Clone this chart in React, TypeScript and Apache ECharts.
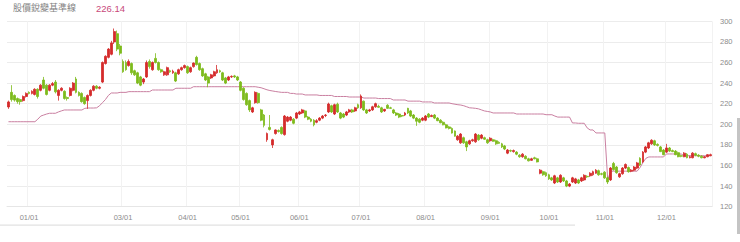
import React, { useEffect, useRef } from "react";
import * as echarts from "echarts";

// [open, close, low, high]
const ohlc: [number, number, number, number][] = [
  [216.8,221.7,215,223],[231,224,222,238],[228,223.5,222,229],[225,222,220,226],[224,222,219,225],
  [223,227,222,228],[227,230,226,231],[231,230,229,232],[230,232,229,233],[229,234,228,235],
  [234,227,225,235],[233,238,232,239],[243,235,234,246],[238,229,228,239],[233,238,232,239],
  [238,239.5,237,241],[241,231.5,230,243],[228,233,223,234],[233,235,232,236],[232,225,224,233],
  [226,225,223,227],[228,235,227,236],[233,240,232,241],[244,231,230,246],[231,228,227,232],
  [230,222,221,231],[226,220,219,227],[223,228,215,229],[228,233,227,234],[233,237,232,238],
  [237,235,234,238],[235,236,234,237],[241,260,240,261],[259,266,258,267],[265,273,264,274],
  [268,279,267,281],[280,290,278,293],[288,273,271,291],[276,269,267,278],[261,251,250,263],
  [260,253,252,262],[257,261,256,263],[259,250,248,260],[252,248,247,253],[250,240,239,251],
  [246,238,237,247],[241,244,239,245],[246,260,245,262],[261,256,254,263],[253,260,252,261],
  [264,260,259,269],[260,253,252,261],[253,251,250,254],[248,251,247,252],[248,255,247,256],
  [252,251,250,253],[250,251.5,249,253],[250,242,241,251],[249,253,248,254],[253,255,252,256],
  [255,257,254,258],[256,250,249,257],[251,255,250,256],[256,259.5,255,260],[265,258,257,266.5],
  [259,253,252,260],[254,247,246,255],[249,243,242,250],[246,240,236,247],[245,248,244,249],
  [247,251,246,252],[250,253,249,257.6],[252,251,250,253],[250,243,242,251],[245,240,239,246],
  [243,246,242,247],[246,246.5,245,247.5],[247,246,245,248],[246,243,242,247],[241,233,232,242],
  [235,224,223,236],[230,219,218,231],[223,214,212,224],[212,216,211,217],[221,231,220,232],
  [230,221,220,231],[214,204,203,215],[209,199,197,210],[185,191,183,192],[197,195,194,209],
  [180,185,177,186],[191,194.5,190,195],[194,193,192,195],[197,191,190,198],[190,208,189,209],
  [203,207,202,208],[204,207,203,208],[205,201,200,206],[206,211,205,212],[210,212,209,213],
  [211,214,210,215],[213,207,206,214],[207,205,204,208],[205,203,202,206],[204,199.5,198,205],
  [202,203.5,201,205],[204,206,203,207],[206,208,205,209],[208.5,209,207,210],[212,219.7,211,221],
  [218,212,211,219],[210,219,209,220],[219.5,212,211,221],[211,206,205,212],[210,207,206,211],
  [209,212,208,213],[212,214,211,215],[214,212,211,215],[213,216,212,217],[219,216,215,220],
  [216,227.5,215,229],[222.5,214,213,223],[214,211,210,215],[213,214,212,215],[214,217,213,218],
  [217,220,216,221],[217.5,216.5,216,219],[216,212,211,217],[213,214.5,212,215],[218.5,215.5,215,219.5],
  [216,215.5,215,217],[214,211,210,215],[211,209,208,212],[210,207,206,211],[208.5,208,207,209],
  [209,211,208,212],[215.5,211,210,216],[213,208,207,214],[209,206,205,210],[206,203,198.5,207],
  [205,202,201,206],[204,206,203,207],[204,208,203,209],[210,207,206,211],[207.5,208.5,207,209.5],
  [209,206,205,210],[206,203.5,203,207],[204,201.5,201,205],[202,199.5,199,203],[199.5,196.5,196,200.5],
  [197.5,196,195,198.5],[196,191.5,191,197],[193.5,188.5,188,194],[185,188.5,184,189.5],[182,190.5,181,191.5],
  [187,182,181,188],[183,178,174,184],[181,184,180,185],[184,185,183,186],[183,190.5,182,191.5],
  [189.5,185,184,190.5],[186.5,189.5,185.5,190.5],[187,185.5,185,188],[185,182,181,186],[184,186.5,183,187.5],
  [185,183.5,183,186],[184,181,180,185],[182.5,181.5,181,183.5],[181,178,177,182],[179,176,175,180],
  [172,175,171,176],[174.5,174,173,175.5],[173.5,174.5,172.5,175.5],[173,171,170,174],[170,168.5,167.5,171],
  [168.5,171,167.5,172],[169,166.5,166,170],[166.5,164.5,164,167.5],[165,166.5,164.5,167.5],[167.5,166.5,166,168.5],
  [166.5,163.5,163,167.5],[152.5,155.5,151.5,156.5],[154,151,150,155],[153,150,149,154],[151,147,146,152],
  [148,146,145,149],[143,150,142,151],[148,144,143,149],[144,150.5,143,151.5],[148,145,144,149],
  [145,140,139,146],[140,142,139,143],[144,148,143,149],[143,147,142,148],[146,143,142,147],
  [145,148,144,149],[146,150.5,145,151.5],[149.5,149,148,150.5],[150,152.5,149,153.5],[151,154,150,155],
  [152.5,155.5,152,156.5],[155,151,150,156],[152,151.5,150.5,153],[153.5,148,147,154.5],[148,144,142,149],
  [146,157.5,145,158.5],[162,156,155,163.5],[158.5,153,152,159.5],[149,152,148,153],[152,157.5,151,158.5],
  [157.5,161,156.5,162],[158,154,153,159],[154.5,155.5,153.5,156.5],[155.5,158.5,154.5,159.5],[157.5,162.5,156.5,163.5],
  [167,160.5,159.5,168],[163.5,173,162.5,174],[173,178,172,179],[177,182,176,183],[181,184.5,180,185.5],
  [184,180,179,185],[180.5,179.5,178.5,181.5],[178,173.5,173,179],[175,170.5,170,176],[173,177,172,181],
  [177,174,173,178],[174.5,173.5,173,175.5],[174,170.5,170,175],[172.5,168.5,168,173.5],[169.5,169,168,170.5],
  [168.5,172,168,173],[171,167.5,167,172],[167.5,168.5,167,169.5],[167.5,172,167,173],[171.5,170,169,172.5],
  [170,169,168,171],[169,167.5,167,170],[167.5,168.5,167,169],[168.5,170.5,168,171],[169.5,170.5,169,171.5],
];

const baseline: number[] = [
  202.5,202.5,202.5,202.5,202.5,202.5,202.5,202.5,202.5,202.5,
  205,208,209,210,210.7,210.7,210.7,212,213,213.9,
  213.9,213.9,213.9,213.9,213.9,213.9,215.5,215.8,215.8,215.8,
  216,218,221,224,228,230.4,230.4,230.4,231,231,
  231,231.7,231.7,231.7,231.7,231.7,231.7,231.7,231.7,233.3,
  233.3,233.3,233.3,233.3,233.3,233.3,233.3,235,235,235,
  235,235,235,236.5,236.5,236.5,236.5,236.5,236.5,236.5,
  236.5,236.5,236.5,236.5,236.5,236.5,236.5,236.5,236.5,236.5,
  236.5,236.5,236.5,236.5,236.5,236,235.5,234.5,233.5,232.8,
  232.3,231.8,231.4,231,231,231,230,230,229.4,229.4,
  229.4,228.5,228.5,228.5,228.5,228.5,228,228,228,228,
  228,227,227,227,227,227,226.5,226.5,226.5,226.5,
  226.5,225.5,225.5,225.5,225.5,225.5,225,225,225,225,
  225,223.6,223.6,223.6,223.6,223.6,222.5,222.5,222.5,222.5,
  222.5,221.7,221.7,221.7,221.7,220.7,220.7,220.7,220.7,220.7,
  220.7,220,219.5,219,218.7,218,217,216,215.8,215.5,
  215,214,213,212.5,212,211,211,211,211,211,
  211,211,211,210,210,210,210,210,210,210,
  210,210,210,209.3,209.3,209.3,208,207,207,207,
  207,207,201.3,201.3,201,201,201,196.5,194.5,194.5,
  191.6,191.6,191.6,191.6,146,154.5,154.5,154.5,154.5,154.5,
  154.5,154.5,154.5,154.5,154.5,158,163,167,168.3,168.3,
  168.3,168.3,168.3,168.3,171.2,171.2,171.2,171.2,171.2,171.2,
  169.5,169.5,169.5,169.5,169.5,169.5,169.5,169.5,169.5,169.5,
];

const categories: string[] = ohlc.map((_, i) => String(i));
const tickIndex: number[] = [7, 39, 61, 79, 99, 120, 142, 164, 184, 203, 224];
const tickLabels: string[] = ["01/01", "03/01", "04/01", "05/01", "06/01", "07/01", "08/01", "09/01", "10/01", "11/01", "12/01"];
const yTicks = { min: 120, max: 300, interval: 20 };
const titleText = "股價銳變基準線";
const titleValue = "226.14";

const UP = "#d42b2b";
const DOWN = "#7dbb1c";
const PINK = "#c97fa0";

export default function App() {
  const ref = useRef<HTMLDivElement>(null);
  useEffect(() => {
    if (!ref.current) return;
    const chart = echarts.init(ref.current, null, { renderer: "svg" });
    const tickSet = new Set(tickIndex);
    const labelMap: Record<string, string> = {};
    tickIndex.forEach((idx, k) => (labelMap[categories[idx]] = tickLabels[k]));
    chart.setOption({
      animation: false,
      backgroundColor: "#ffffff",
      grid: { left: 7, right: 28, top: 21.3, bottom: 35.3, containLabel: false },
      graphic: [
        { type: "text", left: 13, top: 3, style: { text: titleText, fontSize: 9, fill: "#7f7f7f", fontFamily: "Noto Sans CJK TC" } },
        { type: "text", left: 96, top: 3, style: { text: titleValue, fontSize: 9.5, fill: "#c8497a", fontFamily: "Liberation Sans" } },
        { type: "rect", left: 737, top: 118, shape: { width: 3, height: 116 }, style: { fill: "#c4c4c4" } },
        { type: "rect", left: 0, top: 224.5, shape: { width: 575, height: 1.2 }, style: { fill: "#e2e2e2" } },
      ],
      xAxis: {
        type: "category",
        data: categories,
        boundaryGap: true,
        axisLine: { show: true, lineStyle: { color: "#e6e6e6" } },
        axisTick: { show: false },
        axisLabel: {
          interval: (i: number) => tickSet.has(i),
          formatter: (v: string) => labelMap[v] || "",
          color: "#8c8c8c",
          fontSize: 7.5,
          margin: 7,
          fontFamily: "Liberation Sans",
        },
        splitLine: { show: true, interval: (i: number) => tickSet.has(i), lineStyle: { color: "#f2f2f2" } },
      },
      yAxis: {
        type: "value",
        position: "right",
        min: yTicks.min,
        max: yTicks.max,
        interval: yTicks.interval,
        axisLine: { show: false },
        axisTick: { show: false },
        axisLabel: { color: "#8c8c8c", fontSize: 7.5, margin: 8, fontFamily: "Liberation Sans" },
        splitLine: { lineStyle: { color: "#ececec" } },
      },
      series: [
        {
          type: "line",
          data: baseline,
          symbol: "none",
          lineStyle: { color: PINK, width: 1 },
          z: 1,
        },
        {
          type: "candlestick",
          data: ohlc,
          barWidth: 2.4,
          itemStyle: { color: UP, color0: DOWN, borderColor: UP, borderColor0: DOWN, borderWidth: 0.8 },
          z: 2,
        },
      ],
    });
    return () => chart.dispose();
  }, []);
  return <div ref={ref} style={{ position: "fixed", left: 0, top: 0, width: 740, height: 242 }} />;
}
